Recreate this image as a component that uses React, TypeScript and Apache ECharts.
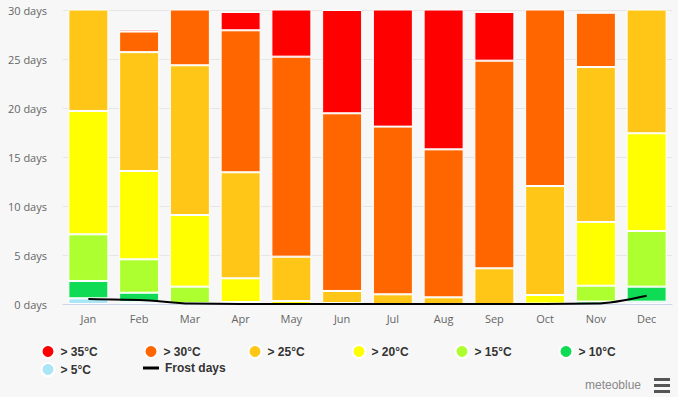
import React, { useEffect, useRef } from "react";
import * as echarts from "echarts";

const months = ["Jan", "Feb", "Mar", "Apr", "May", "Jun", "Jul", "Aug", "Sep", "Oct", "Nov", "Dec"];
const yTicks = [0, 5, 10, 15, 20, 25, 30];

const over5 = [0.58, 0.23, 0, 0, 0, 0, 0, 0, 0, 0, 0, 0.24];
const over10 = [1.77, 0.92, 0.1, 0, 0, 0, 0, 0, 0, 0, 0.25, 1.53];
const over15 = [4.76, 3.41, 1.67, 0.2, 0, 0, 0, 0, 0, 0.05, 1.62, 5.68];
const over20 = [12.59, 9.01, 7.31, 2.42, 0.3, 0.1, 0, 0, 0, 0.87, 6.5, 9.97];
const over25 = [11.3, 12.13, 15.28, 10.82, 4.53, 1.23, 0.99, 0.68, 3.64, 11.12, 15.81, 13.58];
const over30 = [0, 2.1, 6.64, 14.49, 20.41, 18.13, 17.11, 15.1, 21.19, 18.96, 5.54, 0];
const over35 = [0, 0.2, 0, 1.87, 5.76, 10.54, 12.9, 15.22, 4.97, 0, 0, 0];
const frostDays = [0.5, 0.42, 0.05, 0, 0, 0, 0, 0, 0, 0, 0.05, 0.85];

const barSeriesDefs = [
  { name: "> 5°C", data: over5, color: "#aae6f6" },
  { name: "> 10°C", data: over10, color: "#0fdc54" },
  { name: "> 15°C", data: over15, color: "#adff2f" },
  { name: "> 20°C", data: over20, color: "#ffff00" },
  { name: "> 25°C", data: over25, color: "#ffc618" },
  { name: "> 30°C", data: over30, color: "#ff6600" },
  { name: "> 35°C", data: over35, color: "#ff0000" },
];

const legendLayout = [
  { name: "> 35°C", cx: 47, cy: 351 },
  { name: "> 30°C", cx: 150, cy: 351 },
  { name: "> 25°C", cx: 254, cy: 351 },
  { name: "> 20°C", cx: 358, cy: 351 },
  { name: "> 15°C", cx: 461, cy: 351 },
  { name: "> 10°C", cx: 565, cy: 351 },
  { name: "> 5°C", cx: 47, cy: 369 },
];

export default function App() {
  const ref = useRef<HTMLDivElement>(null);
  useEffect(() => {
    document.body.style.margin = "0";
    if (!ref.current) return;
    const chart = echarts.init(ref.current, undefined, { renderer: "svg" });
    const textStyle = {
      fontFamily: "'Liberation Sans', Arial, sans-serif",
      fontWeight: "bold" as const,
      fontSize: 12,
      color: "#333",
      padding: [0, 0, 0, 1],
    };
    const legends: any[] = legendLayout.map((l) => ({
      data: [{ name: l.name, icon: "circle" }],
      left: l.cx - 6.5,
      top: l.cy - 7,
      padding: 0,
      itemWidth: 13,
      itemHeight: 13,
      textStyle,
    }));
    legends.push({
      data: [{ name: "Frost days", icon: "rect" }],
      left: 143,
      top: 362,
      padding: 0,
      itemWidth: 16,
      itemHeight: 3,
      textStyle,
    });
    chart.setOption({
      animation: false,
      backgroundColor: "#f7f7f7",
      grid: { left: 63, right: 6, top: 10, bottom: 93, containLabel: false, outerBoundsMode: "none" },
      legend: legends,
      xAxis: {
        type: "category",
        data: months,
        axisLine: { lineStyle: { color: "#ccd6eb" } },
        axisTick: { show: false },
        axisLabel: { color: "#666", fontSize: 11, fontFamily: "'Open Sans', sans-serif", margin: 9 },
      },
      yAxis: {
        type: "value",
        min: yTicks[0],
        max: yTicks[yTicks.length - 1],
        interval: 5,
        axisLine: { show: false },
        axisTick: { show: false },
        splitLine: { lineStyle: { color: "#e6e6e6" } },
        axisLabel: {
          color: "#666",
          fontSize: 11,
          fontFamily: "'Open Sans', sans-serif",
          margin: 16,
          formatter: "{value} days",
        },
      },
      series: [
        ...barSeriesDefs.map((s) => ({
          name: s.name,
          type: "bar",
          stack: "days",
          barWidth: 40,
          data: s.data.map((v) => (v === 0 ? "-" : v)),
          itemStyle: { color: s.color, borderColor: "#ffffff", borderWidth: 1 },
          emphasis: { disabled: true },
        })),
        {
          name: "Frost days",
          type: "line",
          data: frostDays,
          smooth: 0.3,
          smoothMonotone: "x",
          showSymbol: false,
          symbol: "none",
          lineStyle: { color: "#000", width: 2 },
          itemStyle: { color: "#000" },
          z: 5,
        },
      ],
      graphic: [
        {
          type: "text",
          left: 585,
          top: 379,
          style: {
            text: "meteoblue",
            fill: "#888",
            fontSize: 12,
            fontFamily: "'Liberation Sans', Arial, sans-serif",
          },
        },
        { type: "rect", shape: { x: 654, y: 378, width: 16, height: 3 }, style: { fill: "#555" } },
        { type: "rect", shape: { x: 654, y: 384, width: 16, height: 3 }, style: { fill: "#555" } },
        { type: "rect", shape: { x: 654, y: 390, width: 16, height: 3 }, style: { fill: "#555" } },
      ],
    });
    return () => chart.dispose();
  }, []);
  return <div ref={ref} style={{ width: 678, height: 397 }} />;
}
